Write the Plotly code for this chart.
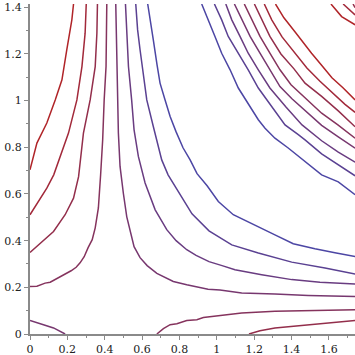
import plotly.graph_objects as go

# ---- contour polylines (data units) ----
a1_x = [0.233, 0.224, 0.197, 0.171, 0.135, 0.090, 0.037, 0.000]
a1_y = [1.414, 1.346, 1.218, 1.089, 1.003, 0.904, 0.818, 0.704]

a2_x = [0.301, 0.295, 0.278, 0.251, 0.206, 0.161, 0.127, 0.090, 0.045, 0.000]
a2_y = [1.414, 1.289, 1.146, 1.003, 0.861, 0.761, 0.682, 0.625, 0.568, 0.511]

a3_x = [0.361, 0.358, 0.349, 0.322, 0.286, 0.260, 0.233, 0.188, 0.126, 0.055, 0.000]
a3_y = [1.414, 1.289, 1.146, 1.003, 0.861, 0.674, 0.582, 0.511, 0.439, 0.390, 0.349]

a4_x = [0.411, 0.407, 0.397, 0.389, 0.378, 0.366, 0.349, 0.333, 0.311, 0.290, 0.268,
        0.247, 0.220, 0.179, 0.144, 0.108, 0.081, 0.037, 0.000]
a4_y = [1.414, 1.146, 1.003, 0.832, 0.682, 0.540, 0.455, 0.404, 0.370, 0.331, 0.305,
        0.286, 0.271, 0.254, 0.239, 0.222, 0.218, 0.205, 0.203]

a5_x = [0.459, 0.464, 0.468, 0.473, 0.482, 0.490, 0.500, 0.518, 0.536, 0.557, 0.589,
        0.627, 0.679, 0.767, 0.839, 0.893, 0.953, 1.017, 1.133, 1.311, 1.489, 1.740]
a5_y = [1.414, 1.146, 1.003, 0.862, 0.718, 0.661, 0.601, 0.502, 0.438, 0.374, 0.327,
        0.293, 0.260, 0.225, 0.211, 0.201, 0.192, 0.188, 0.176, 0.171, 0.165, 0.161]

a6_x = [0.511, 0.520, 0.527, 0.544, 0.557, 0.580, 0.616, 0.670, 0.732, 0.782, 0.839,
        0.889, 0.958, 1.028, 1.097, 1.240, 1.401, 1.552, 1.740]
a6_y = [1.414, 1.260, 1.146, 1.003, 0.875, 0.761, 0.647, 0.532, 0.447, 0.400, 0.361,
        0.337, 0.310, 0.293, 0.275, 0.254, 0.233, 0.222, 0.214]

a7_x = [0.566, 0.576, 0.589, 0.625, 0.660, 0.705, 0.739, 0.782, 0.867, 0.958, 1.080,
        1.222, 1.401, 1.579, 1.740]
a7_y = [1.414, 1.303, 1.218, 1.003, 0.889, 0.746, 0.682, 0.627, 0.515, 0.442, 0.382,
        0.347, 0.308, 0.283, 0.257]

a8_x = [0.630, 0.645, 0.660, 0.680, 0.696, 0.723, 0.750, 0.782, 0.819, 0.857, 0.894,
        0.948, 1.008, 1.088, 1.222, 1.311, 1.409, 1.525, 1.632, 1.740]
a8_y = [1.414, 1.325, 1.260, 1.153, 1.075, 1.003, 0.932, 0.866, 0.798, 0.746, 0.687,
        0.635, 0.568, 0.511, 0.461, 0.425, 0.387, 0.365, 0.348, 0.332]

b1_x = [0.000, 0.037, 0.072, 0.126, 0.188]
b1_y = [0.058, 0.050, 0.040, 0.026, 0.000]

b2_x = [0.679, 0.714, 0.750, 0.786, 0.839, 0.893, 0.928, 0.973, 1.017, 1.133, 1.311, 1.489, 1.740]
b2_y = [0.000, 0.023, 0.040, 0.044, 0.058, 0.061, 0.071, 0.075, 0.080, 0.090, 0.097, 0.100, 0.104]

b3_x = [1.172, 1.231, 1.311, 1.489, 1.740]
b3_y = [0.000, 0.014, 0.026, 0.040, 0.058]

r1_x = [0.919, 0.955, 0.990, 1.026, 1.071, 1.115, 1.156, 1.222, 1.258, 1.311, 1.382,
        1.472, 1.561, 1.650, 1.740]
r1_y = [1.414, 1.346, 1.275, 1.203, 1.132, 1.054, 1.003, 0.918, 0.882, 0.839, 0.797,
        0.738, 0.682, 0.652, 0.597]

r2_x = [0.987, 1.026, 1.061, 1.115, 1.168, 1.222, 1.290, 1.365, 1.436, 1.472, 1.561, 1.650, 1.740]
r2_y = [1.414, 1.346, 1.275, 1.203, 1.132, 1.054, 0.978, 0.896, 0.854, 0.832, 0.772, 0.727, 0.678]

r3_x = [1.048, 1.080, 1.124, 1.168, 1.222, 1.284, 1.370, 1.456, 1.561, 1.650, 1.740]
r3_y = [1.414, 1.346, 1.275, 1.203, 1.132, 1.054, 0.973, 0.896, 0.828, 0.779, 0.736]

r4_x = [1.094, 1.133, 1.178, 1.231, 1.284, 1.338, 1.402, 1.472, 1.561, 1.650, 1.740]
r4_y = [1.414, 1.346, 1.275, 1.203, 1.132, 1.060, 1.008, 0.956, 0.894, 0.845, 0.796]

r5_x = [1.147, 1.187, 1.231, 1.284, 1.338, 1.397, 1.472, 1.561, 1.648, 1.740]
r5_y = [1.414, 1.346, 1.275, 1.203, 1.132, 1.068, 1.011, 0.946, 0.896, 0.839]

r6_x = [1.201, 1.240, 1.284, 1.343, 1.413, 1.472, 1.561, 1.650, 1.740]
r6_y = [1.414, 1.346, 1.275, 1.200, 1.136, 1.075, 1.018, 0.956, 0.888]

r7_x = [1.254, 1.294, 1.349, 1.424, 1.482, 1.552, 1.621, 1.686, 1.740]
r7_y = [1.414, 1.346, 1.273, 1.200, 1.140, 1.083, 1.030, 0.984, 0.950]

r8_x = [1.314, 1.359, 1.418, 1.461, 1.507, 1.563, 1.616, 1.675, 1.740]
r8_y = [1.414, 1.355, 1.295, 1.248, 1.203, 1.149, 1.098, 1.055, 1.003]

t1_x = [1.611, 1.668, 1.740]
t1_y = [1.414, 1.360, 1.325]

t2_x = [1.676, 1.740]
t2_y = [1.414, 1.367]

t3_x = [1.729, 1.740]
t3_y = [1.414, 1.398]

# contour level index of each line (0 = lowest / blue, 7 = highest / red)
contours = [
    (a1_x, a1_y, 7), (a2_x, a2_y, 6), (a3_x, a3_y, 5), (a4_x, a4_y, 4),
    (a5_x, a5_y, 3), (a6_x, a6_y, 2), (a7_x, a7_y, 1), (a8_x, a8_y, 0),
    (b1_x, b1_y, 3), (b2_x, b2_y, 4), (b3_x, b3_y, 5),
    (r1_x, r1_y, 0), (r2_x, r2_y, 1), (r3_x, r3_y, 2), (r4_x, r4_y, 3),
    (r5_x, r5_y, 4), (r6_x, r6_y, 5), (r7_x, r7_y, 6), (r8_x, r8_y, 7),
    (t1_x, t1_y, 7), (t2_x, t2_y, 6), (t3_x, t3_y, 5),
]

x_ticks = [0, 0.2, 0.4, 0.6, 0.8, 1, 1.2, 1.4, 1.6]
y_ticks = [0, 0.2, 0.4, 0.6, 0.8, 1, 1.2, 1.4]

LOW = (76, 70, 164)
HIGH = (176, 36, 40)
NLEV = 7


def level_color(k):
    t = k / NLEV
    c = [round(LOW[i] + t * (HIGH[i] - LOW[i])) for i in range(3)]
    return f"rgb({c[0]},{c[1]},{c[2]})"


fig = go.Figure()
for xs, ys, lev in contours:
    fig.add_trace(go.Scatter(
        x=xs, y=ys, mode="lines",
        line=dict(color=level_color(lev), width=1.5),
        hoverinfo="skip", showlegend=False,
    ))

axis_common = dict(
    showline=True, linecolor="#8a8a8a", linewidth=2,
    ticks="outside", ticklen=4, tickwidth=1, tickcolor="#8a8a8a",
    showgrid=False, zeroline=False,
    tickfont=dict(family="DejaVu Serif", size=11, color="#222222"),
    minor=dict(ticks="outside", dtick=0.1, ticklen=2, tickwidth=1,
               tickcolor="#8a8a8a", showgrid=False),
)

fig.update_layout(
    width=355, height=355,
    margin=dict(l=30, r=0, t=4, b=21, pad=0),
    paper_bgcolor="white", plot_bgcolor="white",
    xaxis=dict(range=[0, 1.7395], tickmode="array", tickvals=x_ticks,
               ticktext=[f"{v:g}" for v in x_ticks], **axis_common),
    yaxis=dict(range=[0, 1.414], tickmode="array", tickvals=y_ticks,
               ticktext=[f"{v:g}" for v in y_ticks], **axis_common),
)

fig.write_html(
    "out.html",
    config={"displayModeBar": False, "staticPlot": True},
    post_script="document.body.style.margin='0';document.body.style.overflow='hidden';",
)
